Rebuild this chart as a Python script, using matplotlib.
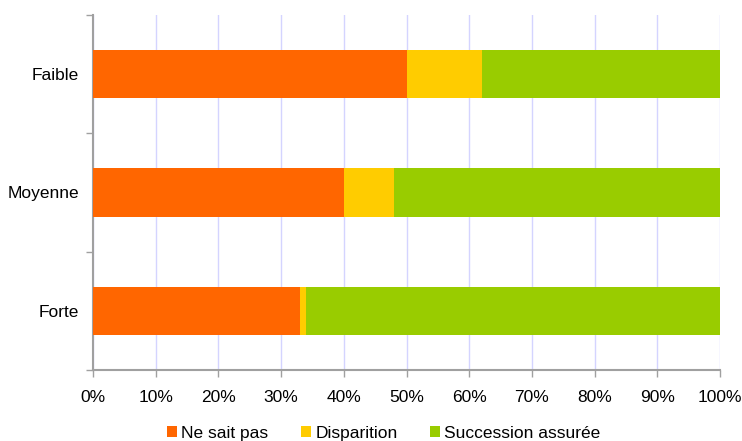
import numpy as np
import matplotlib
matplotlib.use("Agg")
import matplotlib.pyplot as plt
from matplotlib.ticker import FixedLocator, PercentFormatter

#Data
categories = ["Faible", "Moyenne", "Forte"]
ne_sait_pas = [50, 40, 33]
disparition = [12, 8, 1]
succession = [38, 52, 66]
series_names = ["Ne sait pas", "Disparition", "Succession assurée"]

#Style
c_orange = "#FF6600"
c_yellow = "#FFCC00"
c_green = "#99CC00"
c_grid = "#D4D4FF"
c_axis = "#A0A0A0"
plt.rcParams["font.family"] = ["Liberation Sans", "DejaVu Sans"]
plt.rcParams["font.size"] = 12.5

fig = plt.figure(figsize=(7.42, 4.41), dpi=100)
ax = fig.add_axes([93/742, 1-370/441, (720-93)/742, 355/441])

y = np.arange(len(categories))[::-1]
h = 0.41
left = np.zeros(len(categories))
for vals, col, name in zip([ne_sait_pas, disparition, succession],
                           [c_orange, c_yellow, c_green], series_names):
    ax.barh(y, vals, left=left, height=h, color=col, label=name, zorder=3)
    left += np.array(vals)

ax.set_xlim(0, 100)
ax.set_ylim(-0.5, len(categories)-0.5)
ax.set_xticks(np.arange(0, 101, 10))
ax.xaxis.set_major_formatter(PercentFormatter(decimals=0))
ax.grid(axis="x", color=c_grid, lw=1, zorder=0)

ax.set_yticks(y)
ax.set_yticklabels(categories)
ax.yaxis.set_minor_locator(FixedLocator(np.arange(-0.5, len(categories), 1)))
ax.tick_params(axis="y", which="major", length=0, pad=10)
ax.tick_params(axis="y", which="minor", length=5, color=c_axis, width=1)
ax.tick_params(axis="x", length=5, color=c_axis, width=1, pad=9.5)

for s in ["top", "right"]:
    ax.spines[s].set_visible(False)
for s in ["left", "bottom"]:
    ax.spines[s].set_color(c_axis)
    ax.spines[s].set_linewidth(1.5)

fig.legend(loc="lower center", bbox_to_anchor=(0.517, -0.035), ncol=3,
           frameon=False, handlelength=0.6, handleheight=0.6,
           handletextpad=0.25, columnspacing=1.85, fontsize=12.5)

plt.savefig("out.png", dpi=100)
